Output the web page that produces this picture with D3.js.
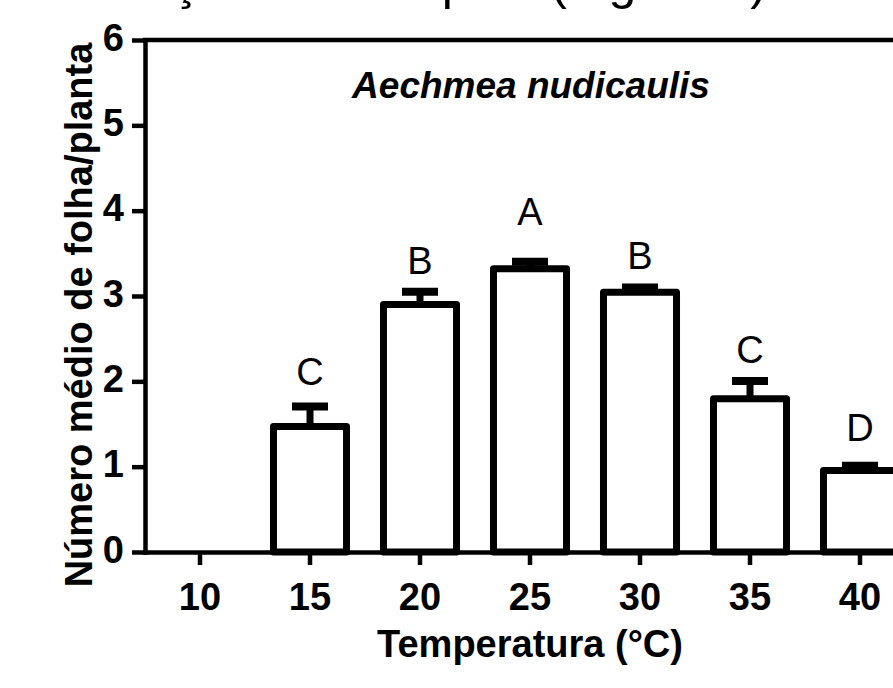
<!DOCTYPE html>
<html><head><meta charset="utf-8">
<script src="https://cdn.jsdelivr.net/npm/d3@7"></script>
<style>body{margin:0;background:#fff} svg{display:block}</style>
</head><body>
<svg id="c" width="893" height="688"></svg>
<script>
// ---- data ----
const categories = ["10", "15", "20", "25", "30", "35", "40"];
const means      = [0, 1.47, 2.90, 3.32, 3.045, 1.795, 0.955];
const errors     = [0, 0.235, 0.15, 0.08, 0.055, 0.21, 0.055];
const letters    = ["", "C", "B", "A", "B", "C", "D"];
const letterAt   = [null, 1.96, 3.26, 3.83, 3.32, 2.22, 1.30];
const yTicks     = [0, 1, 2, 3, 4, 5, 6];
const species    = "Aechmea nudicaulis";
const xTitle     = "Temperatura (°C)";
const yTitle     = "Número médio de folha/planta";
const caption    = "na indução do solo pela (Figura 5)";

const rows = categories.map((c, i) => ({c, m: means[i], e: errors[i], l: letters[i], la: letterAt[i]}));

const svg = d3.select("#c");
const FONT = "'Liberation Sans', Arial, Helvetica, sans-serif";
const mLeft = 145, mRight = 915, mTop = 40, mBottom = 552;

const x = d3.scaleBand().domain(categories).range([mLeft, mRight])
  .paddingInner(0.336).paddingOuter(0.168);
const y = d3.scaleLinear().domain([0, 6]).range([mBottom, mTop]);

svg.append("rect").attr("width", 893).attr("height", 688).attr("fill", "#fff");

// cropped caption line at very top (only its lowest part shows)
svg.append("text").attr("x", 767).attr("y", -1).attr("text-anchor", "end")
  .attr("font-family", FONT).attr("font-size", 50).attr("fill", "#000").text(caption);

// top frame line
svg.append("line").attr("x1", mLeft).attr("x2", mRight).attr("y1", y(6)).attr("y2", y(6))
  .attr("stroke", "#000").attr("stroke-width", 4.5).attr("stroke-linecap", "square");

// y axis
const ya = svg.append("g").attr("transform", `translate(${mLeft},0)`)
  .call(d3.axisLeft(y).tickValues(yTicks).tickFormat(d3.format("d"))
    .tickSize(13).tickSizeOuter(0).tickPadding(8));
ya.select(".domain").attr("stroke", "#000").attr("stroke-width", 4.5).attr("stroke-linecap", "square");
ya.selectAll(".tick line").attr("stroke", "#000").attr("stroke-width", 4.5);
ya.selectAll(".tick text").attr("font-family", FONT).attr("font-size", 38).attr("font-weight", "bold")
  .attr("fill", "#000").attr("dy", "0.27em");

// bars
const barG = svg.append("g");
barG.selectAll("rect").data(rows.filter(d => d.m > 0)).join("rect")
  .attr("x", d => x(d.c)).attr("width", x.bandwidth())
  .attr("y", d => y(d.m)).attr("height", d => y(0) - y(d.m))
  .attr("fill", "#fff").attr("stroke", "#000").attr("stroke-width", 7)
  .attr("stroke-linejoin", "round");

// x axis (drawn over bar bottoms)
const xa = svg.append("g").attr("transform", `translate(0,${mBottom})`)
  .call(d3.axisBottom(x).tickSize(13).tickSizeOuter(0).tickPadding(18));
xa.select(".domain").attr("stroke", "#000").attr("stroke-width", 4.5).attr("stroke-linecap", "square");
xa.selectAll(".tick line").attr("stroke", "#000").attr("stroke-width", 4.5);
xa.selectAll(".tick text").attr("font-family", FONT).attr("font-size", 38).attr("font-weight", "bold")
  .attr("fill", "#000").attr("dy", "0.72em");

// error bars (upper only)
const eb = svg.append("g");
const cx = d => x(d.c) + x.bandwidth() / 2;
const withErr = rows.filter(d => d.m > 0);
eb.selectAll("line.stem").data(withErr).join("line").attr("class", "stem")
  .attr("x1", cx).attr("x2", cx).attr("y1", d => y(d.m)).attr("y2", d => y(d.m + d.e))
  .attr("stroke", "#000").attr("stroke-width", 7);
eb.selectAll("line.cap").data(withErr).join("line").attr("class", "cap")
  .attr("x1", d => cx(d) - 18).attr("x2", d => cx(d) + 18)
  .attr("y1", d => y(d.m + d.e)).attr("y2", d => y(d.m + d.e))
  .attr("stroke", "#000").attr("stroke-width", 8);

// significance letters
svg.append("g").selectAll("text").data(rows.filter(d => d.l)).join("text")
  .attr("x", cx).attr("y", d => y(d.la)).attr("text-anchor", "middle")
  .attr("font-family", FONT).attr("font-size", 38).attr("fill", "#000").text(d => d.l);

// species title
svg.append("text").attr("x", 531).attr("y", 98).attr("text-anchor", "middle")
  .attr("font-family", FONT).attr("font-size", 37).attr("font-weight", "bold").attr("font-style", "italic")
  .attr("fill", "#000").text(species);

// axis titles
svg.append("text").attr("x", 530).attr("y", 657).attr("text-anchor", "middle")
  .attr("font-family", FONT).attr("font-size", 38).attr("font-weight", "bold").attr("fill", "#000").text(xTitle);
svg.append("text").attr("transform", `translate(92,${(mTop + mBottom) / 2 + 19}) rotate(-90)`)
  .attr("text-anchor", "middle")
  .attr("font-family", FONT).attr("font-size", 38).attr("font-weight", "bold").attr("fill", "#000").text(yTitle);
</script>
</body></html>
